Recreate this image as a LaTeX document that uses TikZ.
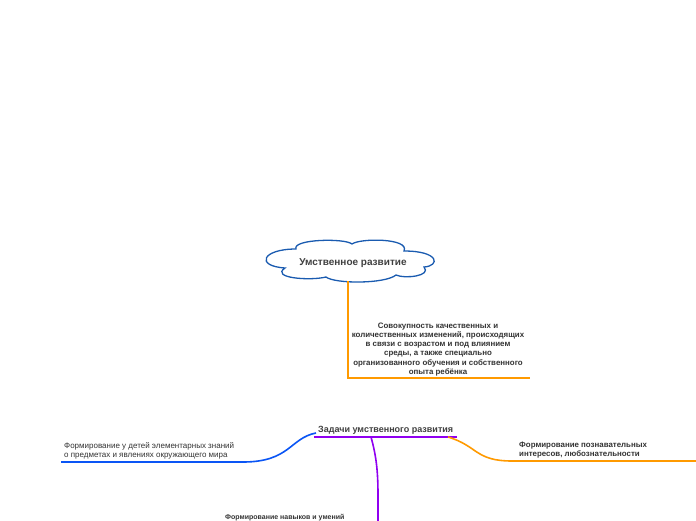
\documentclass[tikz,border=0pt]{standalone}
\usepackage{fontspec}
\setmainfont{Liberation Sans}
\begin{document}
\begin{tikzpicture}[x=1pt,y=-1pt,
  txt/.style={text=black!80,inner sep=0pt,font=\fontsize{8}{9.2}\selectfont},
  btxt/.style={txt,font=\fontsize{7.9}{9.1}\selectfont\bfseries},
  title/.style={text=black!75,inner sep=0pt,font=\fontsize{9}{10}\selectfont\bfseries},
  cloudline/.style={draw=cloudblue,line width=1.3pt,fill=white},
  conn/.style={line width=1.6pt}]
\definecolor{cloudblue}{HTML}{1A5BB0}
\definecolor{brblue}{HTML}{0A55F5}
\definecolor{purp}{HTML}{9000F0}
\definecolor{orng}{HTML}{FF9A00}
\clip (0,0) rectangle (696,520);
\fill[white] (0,0) rectangle (696,520);
% cloud
\draw[cloudline] (285,268) .. controls (255,266) and (262,249) .. (296,249)
  .. controls (292,239) and (345,238) .. (352,244)
  .. controls (360,238) and (410,238) .. (404,251)
  .. controls (440,251) and (440,266) .. (424,267)
  .. controls (432,276) and (405,279) .. (396,275)
  .. controls (385,284) and (335,284) .. (326,277)
  .. controls (310,281) and (270,278) .. (285,268) -- cycle;
\node[title,font=\fontsize{10}{12}\selectfont\bfseries] (main) at (353,263) {Умственное развитие};
\coordinate (cb) at (348,281);
\coordinate (dcorner) at (348,378);
\coordinate (dend) at (530,378);
\node[btxt,align=center] (desc) at (438,349.5) {Совокупность качественных и\\количественных изменений, происходящих\\в связи с возрастом и под влиянием\\среды, а также специально\\организованного обучения и собственного\\опыта ребёнка};
\draw[orng,conn] (cb) -- (dcorner) -- (dend);
% tasks
\node[title,anchor=base west] (tasks) at (318,432) {Задачи умственного развития};
\coordinate (tl) at (314,437);
\coordinate (tr) at (457,437);
\draw[purp,conn] (tl) -- (tr);
% left blue
\coordinate (bstart) at (316,433);
\coordinate (bmid) at (243,462);
\coordinate (bend) at (61,462);
\draw[brblue,conn] (bstart) .. controls (290,438) and (290,462) .. (bmid) -- (bend);
\node[txt,align=left,anchor=north west] (know) at (64,442.5) {Формирование у детей элементарных знаний\\о предметах и явлениях окружающего мира};
% right orange
\coordinate (ostart) at (448,437);
\coordinate (omid) at (512,461);
\coordinate (oend) at (696,461);
\draw[orng,conn] (ostart) .. controls (478,446) and (475,461) .. (omid) -- (oend);
\node[btxt,align=left,anchor=north west] (interest) at (519,441.5) {Формирование познавательных\\интересов, любознательности};
% purple down
\coordinate (pstart) at (371,437);
\coordinate (pmid) at (378,495);
\coordinate (pend) at (378,530);
\draw[purp,conn] (pstart) .. controls (376,455) and (378,470) .. (pmid) -- (pend);
\node[btxt,font=\fontsize{7}{9}\selectfont\bfseries,anchor=north west] (skills) at (225,514.5) {Формирование навыков и умений};
\end{tikzpicture}
\end{document}
